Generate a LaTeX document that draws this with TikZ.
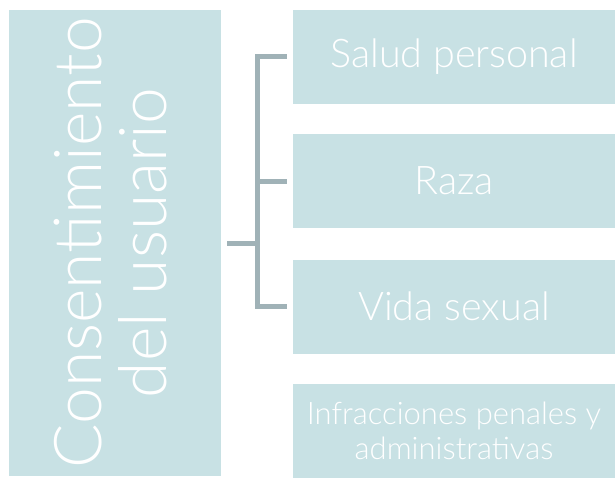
\documentclass[tikz,border=0pt]{standalone}
\usepackage{fontspec}
\setmainfont{Lato}[UprightFont=* Light]
\usepackage{tikz}
\usetikzlibrary{positioning, calc}
\definecolor{Teal-1}{RGB}{200,225,228}
\definecolor{Teal-5}{RGB}{160,178,183}

\begin{document}
\begin{tikzpicture}[x=1pt, y=-1pt]
      \tikzset{ mainbox/.style={fill=Teal-1, minimum width=212pt, minimum height=466pt, inner sep=0pt, text=white} }
      \tikzset{ item/.style   ={fill=Teal-1, minimum width=322pt, minimum height=94pt,  inner sep=0pt, text=white, align=center, font=\fontsize{39.5}{44}\selectfont} }
      \tikzset{ brace/.style  ={draw=Teal-5, line width=5pt} }

      \useasboundingbox (0,0) rectangle (615,477);

      \node[mainbox] (main) at (115, 243) {};
      \node[rotate=90, align=center, text=white, font=\fontsize{66}{65}\selectfont] (title) at (111, 243) {Consentimiento\\del usuario};

      \node[item] (salud)  at (454, 56.5) {Salud personal};
      \node[item] (raza)   at (454, 181 ) {Raza};
      \node[item] (vida)   at (454, 306.5) {Vida sexual};
      \node[item, font=\fontsize{31}{35}\selectfont] (infrac) at (454, 431) {Infracciones penales y\\administrativas};

      \coordinate (stub)  at (227, 243);
      \coordinate (spine) at (257.5, 243);

      \draw[brace] (stub) -- (spine);
      \draw[brace] ([xshift=-6pt]salud.west) -| (spine) |- ([xshift=-6pt]vida.west);
      \draw[brace] (spine |- raza.west) -- ([xshift=-6pt]raza.west);
    \end{tikzpicture}
\end{document}
